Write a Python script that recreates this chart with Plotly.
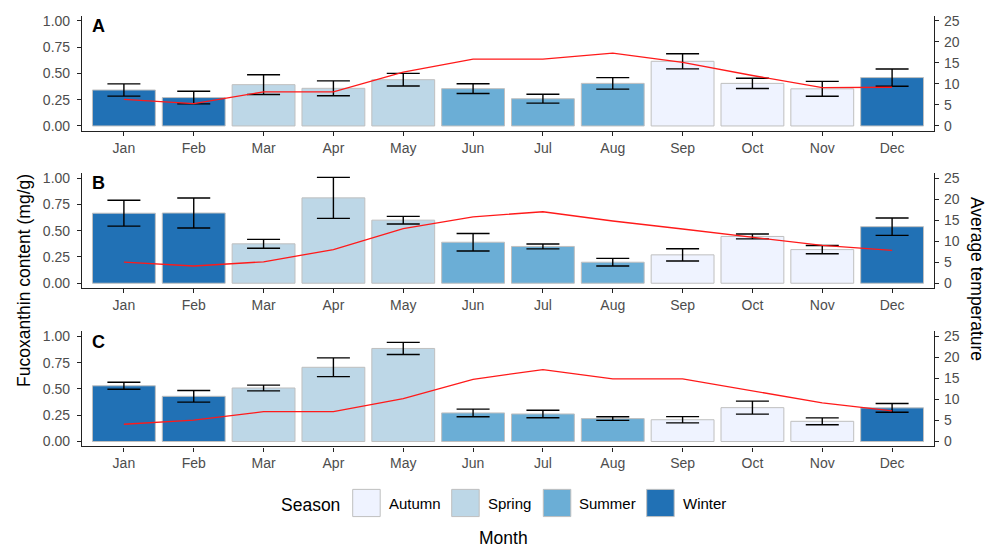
import plotly.graph_objects as go

# ---------------- data ----------------
months = ["Jan", "Feb", "Mar", "Apr", "May", "Jun",
          "Jul", "Aug", "Sep", "Oct", "Nov", "Dec"]
month_season = ["Winter", "Winter", "Spring", "Spring", "Spring", "Summer",
                "Summer", "Summer", "Autumn", "Autumn", "Autumn", "Winter"]
seasons = ["Autumn", "Spring", "Summer", "Winter"]
panel_tags = ["A", "B", "C"]

# fucoxanthin content (mg/g): mean and error half-width per month
fx_a = [0.342, 0.270, 0.393, 0.358, 0.440, 0.355, 0.259, 0.405, 0.615, 0.405, 0.353, 0.460]
err_a = [0.058, 0.060, 0.094, 0.071, 0.060, 0.046, 0.042, 0.055, 0.072, 0.049, 0.071, 0.082]
fx_b = [0.666, 0.668, 0.375, 0.812, 0.600, 0.390, 0.350, 0.200, 0.270, 0.445, 0.320, 0.538]
err_b = [0.123, 0.142, 0.042, 0.195, 0.036, 0.083, 0.023, 0.036, 0.058, 0.023, 0.039, 0.083]
fx_c = [0.530, 0.430, 0.509, 0.706, 0.885, 0.272, 0.262, 0.218, 0.207, 0.322, 0.192, 0.320]
err_c = [0.033, 0.055, 0.027, 0.089, 0.058, 0.036, 0.036, 0.017, 0.030, 0.062, 0.033, 0.042]

# average temperature per month
temp_a = [6.3, 5.3, 8.1, 8.1, 12.8, 15.9, 15.9, 17.3, 15.1, 12.0, 9.1, 9.2]
temp_b = [5.0, 4.1, 5.1, 8.0, 13.0, 15.8, 17.0, 14.8, 12.9, 10.9, 9.0, 7.8]
temp_c = [4.1, 5.1, 7.1, 7.1, 10.2, 14.8, 17.1, 14.9, 14.9, 12.1, 9.2, 7.3]

fx_ticks = [0, 0.25, 0.5, 0.75, 1.0]
temp_ticks = [0, 5, 10, 15, 20, 25]

# ---------------- styling ----------------
season_colors = {"Autumn": "#EFF3FF", "Spring": "#BDD7E7",
                 "Summer": "#6BAED6", "Winter": "#2171B5"}
W, H = 992, 555
ML, MR = 82, 58
PW = W - ML - MR
FONT = "Liberation Sans, Arial, sans-serif"
TICK_FONT = dict(family=FONT, size=14, color="#4D4D4D")
AXIS_COL = "#222222"
TEMP_SCALE = 25.0            # secondary axis: temperature = 25 * content
Y_RANGE = [-0.047, 1.05]
PANEL_TOPS = [12.7, 171.7, 331.7]   # pixel top of each panel
PANEL_H = 116.6


def py(px):
    return 1 - px / H


def pxx(px):
    return (px - ML) / PW


fig = go.Figure()
panels = [(fx_a, err_a, temp_a), (fx_b, err_b, temp_b), (fx_c, err_c, temp_c)]
bar_colors = [season_colors[s] for s in month_season]

layout = dict()
annotations = []
for i, (fx, err, temp) in enumerate(panels):
    n = i + 1
    xa = "x" if n == 1 else f"x{n}"
    ya = "y" if n == 1 else f"y{n}"
    yr = f"y{n + 3}"
    fig.add_trace(go.Bar(
        x=months, y=fx, xaxis=xa, yaxis=ya, width=0.9,
        marker=dict(color=bar_colors, line=dict(color="#BFBFBF", width=1)),
        error_y=dict(type="data", array=err, visible=True, color="black",
                     thickness=1.4, width=16.5),
        showlegend=False, hoverinfo="skip"))
    fig.add_trace(go.Scatter(
        x=months, y=temp, xaxis=xa, yaxis=yr, mode="lines",
        line=dict(color="#FF1A1A", width=1.3),
        showlegend=False, hoverinfo="skip"))

    top = PANEL_TOPS[i]
    dom = [py(top + PANEL_H), py(top)]
    axis_common = dict(showline=True, linecolor=AXIS_COL, linewidth=1.2,
                       ticks="outside", ticklen=4, tickcolor=AXIS_COL,
                       tickwidth=1.1, showgrid=False, zeroline=False,
                       tickfont=TICK_FONT)
    layout[f"xaxis{'' if n == 1 else n}"] = dict(
        axis_common, domain=[0, 1], anchor=ya, type="category",
        range=[-0.6, 11.6], ticklabelstandoff=0)
    layout[f"yaxis{'' if n == 1 else n}"] = dict(
        axis_common, domain=dom, anchor=xa, range=Y_RANGE,
        tickvals=fx_ticks, tickformat=".2f", ticklabelstandoff=4)
    layout[f"yaxis{n + 3}"] = dict(
        axis_common, domain=dom, anchor=xa, overlaying=ya, side="right",
        range=[Y_RANGE[0] * TEMP_SCALE, Y_RANGE[1] * TEMP_SCALE],
        tickvals=temp_ticks, ticklabelstandoff=2)
    annotations.append(dict(
        text=f"<b>{panel_tags[i]}</b>", x=pxx(90), y=py(top + 10.5),
        xref="paper", yref="paper", xanchor="left", yanchor="middle",
        showarrow=False, font=dict(family=FONT, size=18, color="black")))

# axis titles
annotations.append(dict(
    text="Fucoxanthin content (mg/g)", x=pxx(24), y=py(281), xref="paper",
    yref="paper", textangle=-90, showarrow=False, xanchor="center",
    yanchor="middle", font=dict(family=FONT, size=17.5, color="black")))
annotations.append(dict(
    text="Average temperature", x=pxx(977), y=py(279), xref="paper",
    yref="paper", textangle=90, showarrow=False, xanchor="center",
    yanchor="middle", font=dict(family=FONT, size=17.5, color="black")))
annotations.append(dict(
    text="Month", x=pxx(503), y=py(541), xref="paper", yref="paper",
    showarrow=False, xanchor="center", yanchor="middle",
    font=dict(family=FONT, size=17.5, color="black")))

# season key
KEY_X = [352.7, 451.7, 543.3, 646.7]
KEY_W, KEY_TOP, KEY_BOT = 27.5, 491.7, 519.2
shapes = []
annotations.append(dict(
    text="Season", x=pxx(279), y=py(507), xref="paper", yref="paper",
    showarrow=False, xanchor="left", yanchor="middle",
    font=dict(family=FONT, size=17.5, color="black")))
for s, kx in zip(seasons, KEY_X):
    shapes.append(dict(
        type="rect", xref="paper", yref="paper",
        x0=pxx(kx), x1=pxx(kx + KEY_W), y0=py(KEY_BOT), y1=py(KEY_TOP),
        fillcolor=season_colors[s], line=dict(color="#BFBFBF", width=1)))
    annotations.append(dict(
        text=s, x=pxx(kx + KEY_W + 6.5), y=py(506), xref="paper",
        yref="paper", showarrow=False, xanchor="left", yanchor="middle",
        font=dict(family=FONT, size=15, color="black")))

fig.update_layout(
    width=W, height=H,
    margin=dict(l=ML, r=MR, t=0, b=0),
    plot_bgcolor="white", paper_bgcolor="white",
    bargap=0.1, annotations=annotations, shapes=shapes,
    font=dict(family=FONT),
    **layout)

fig.write_html("out.html")
